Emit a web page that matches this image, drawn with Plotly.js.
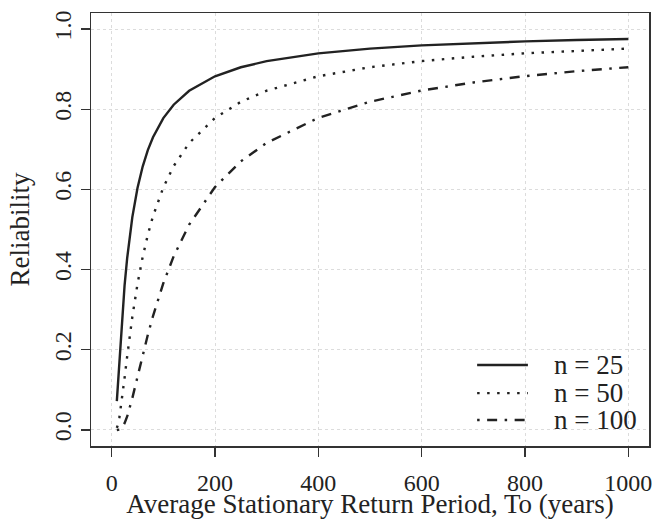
<!DOCTYPE html>
<html><head><meta charset="utf-8">
<script src="https://cdn.plot.ly/plotly-3.0.1.min.js"></script>
<style>html,body{margin:0;padding:0;background:#fff}#chart{width:657px;height:519px}</style>
</head><body><div id="chart"></div>
<script>
var returnPeriod = [10, 12, 15, 20, 25, 30, 40, 50, 60, 70, 80, 100, 120, 150, 200, 250, 300, 400, 500, 600, 700, 800, 900, 1000];
var relN25  = [0.0718, 0.1136, 0.1782, 0.2774, 0.3604, 0.4285, 0.5310, 0.6035, 0.6569, 0.6979, 0.7301, 0.7778, 0.8112, 0.8460, 0.8822, 0.9047, 0.9199, 0.9393, 0.9512, 0.9592, 0.9649, 0.9692, 0.9726, 0.9753];
var relN50  = [0.0052, 0.0129, 0.0318, 0.0769, 0.1299, 0.1836, 0.2820, 0.3642, 0.4315, 0.4871, 0.5331, 0.6050, 0.6581, 0.7157, 0.7783, 0.8185, 0.8462, 0.8822, 0.9048, 0.9201, 0.9310, 0.9394, 0.9460, 0.9512];
var relN100 = [0.0000, 0.0002, 0.0010, 0.0059, 0.0169, 0.0337, 0.0795, 0.1326, 0.1862, 0.2373, 0.2842, 0.3660, 0.4331, 0.5122, 0.6058, 0.6699, 0.7161, 0.7783, 0.8187, 0.8466, 0.8668, 0.8825, 0.8949, 0.9048];
var seriesNames = ["n = 25", "n = 50", "n = 100"];
var xTicks = [0, 200, 400, 600, 800, 1000];
var yTicks = [0.0, 0.2, 0.4, 0.6, 0.8, 1.0];
var yTickText = ["0.0", "0.2", "0.4", "0.6", "0.8", "1.0"];

var ink = "#222";
var fam = "Liberation Serif, Times New Roman, serif";
var tickFont = {family: fam, size: 24, color: ink};
var titleFont = {family: fam, size: 27, color: ink};
var dashes = ["solid", "2.5px,7.5px", "2.5px,7.5px,10px,7.5px"];
var seriesY = [relN25, relN50, relN100];

var traces = seriesY.map(function (ys, i) {
  return {x: returnPeriod, y: ys, name: seriesNames[i], mode: "lines",
          line: {color: ink, width: 2.4, dash: dashes[i]}};
});

// hand-drawn legend (R-style, no box), placed in paper coordinates
var legX0 = 0.692, legX1 = 0.783, legTextX = 0.826;
var legY = [0.187, 0.122, 0.060];
var shapes = legY.map(function (yy, i) {
  return {type: "line", xref: "paper", yref: "paper", x0: legX0, x1: legX1, y0: yy, y1: yy,
          line: {color: ink, width: 2.4, dash: dashes[i]}};
});
var annotations = legY.map(function (yy, i) {
  return {xref: "paper", yref: "paper", x: legTextX, y: yy, xanchor: "left", yanchor: "middle",
          text: seriesNames[i], showarrow: false, font: titleFont};
});

var axisCommon = {
  showline: true, mirror: true, linecolor: "#333", linewidth: 1.5,
  ticks: "outside", ticklen: 9, tickwidth: 1.3, tickcolor: "#333",
  showgrid: true, gridcolor: "#dcdcdc", griddash: "dot", gridwidth: 1,
  zeroline: false, tickfont: tickFont
};
var layout = {
  width: 657, height: 519,
  margin: {l: 91, r: 8, t: 13, b: 73},
  paper_bgcolor: "#fff", plot_bgcolor: "#fff",
  font: tickFont,
  showlegend: false,
  shapes: shapes,
  annotations: annotations,
  xaxis: Object.assign({}, axisCommon, {
    range: [-40, 1040], tickvals: xTicks, ticklabelstandoff: 6,
    title: {text: "Average Stationary Return Period, To (years)", font: titleFont, standoff: 0}
  }),
  yaxis: Object.assign({}, axisCommon, {
    range: [-0.04, 1.04], tickvals: yTicks, ticktext: yTickText, tickangle: -90, ticklabelstandoff: 0,
    title: {text: "Reliability", font: titleFont, standoff: 12}
  })
};
Plotly.newPlot("chart", traces, layout, {displayModeBar: false, staticPlot: true});
</script></body></html>
